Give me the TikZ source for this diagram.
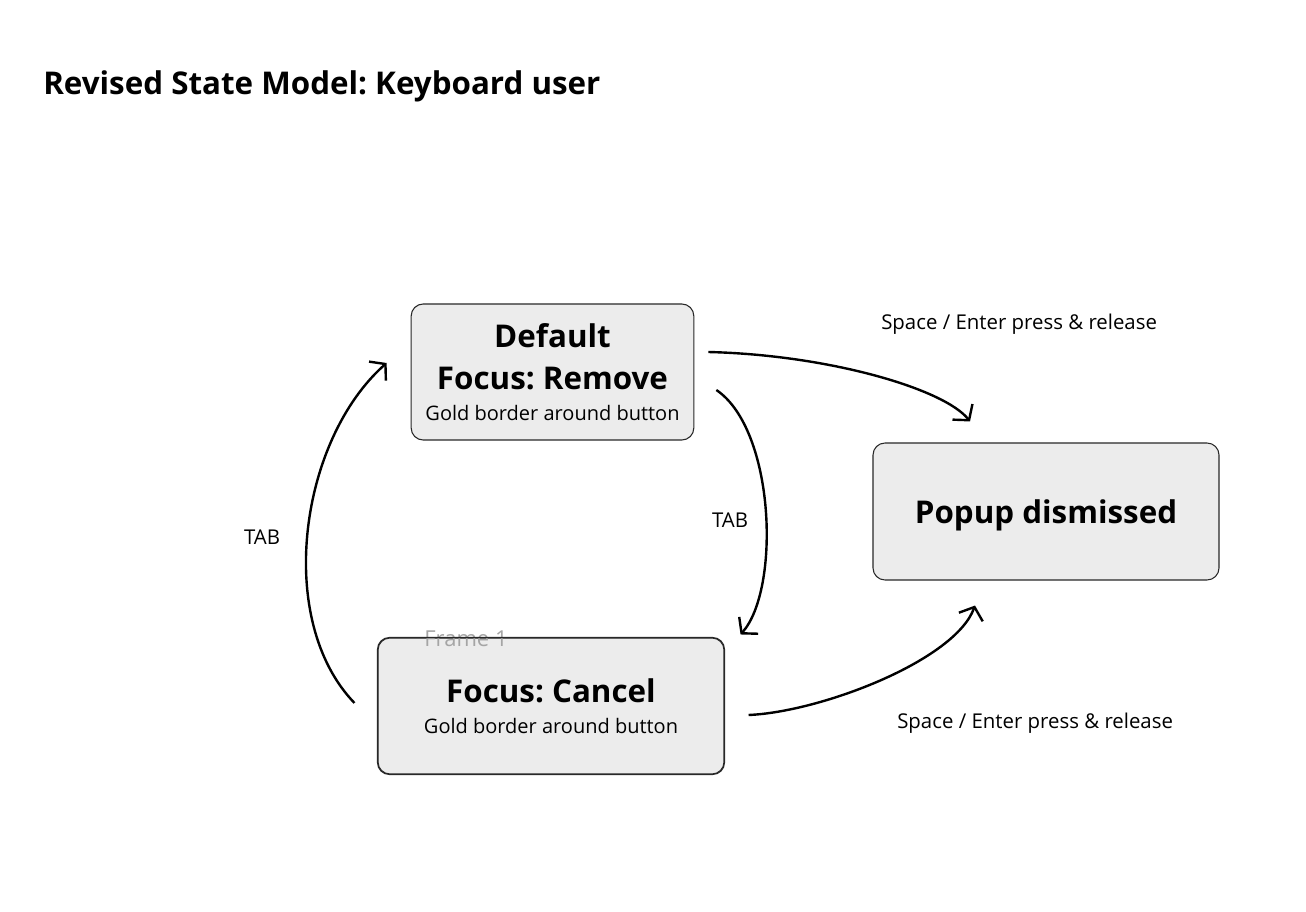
\documentclass[tikz,border=0pt]{standalone}
\usepackage{fontspec}
\setmainfont{Open Sans}
\frenchspacing
\usetikzlibrary{arrows.meta}
\definecolor{boxFill}{RGB}{236,236,236}
\definecolor{boxLine}{RGB}{40,40,40}
\definecolor{frameText}{RGB}{165,165,165}

\begin{document}
\begin{tikzpicture}[
    x=0.75pt, y=-0.75pt,
    state/.style={draw=boxLine, line width=0.8pt, fill=boxFill, rounded corners=9pt, align=center, inner sep=0pt, font=\fontsize{23.5}{32}\selectfont\bfseries},
    sub_text/.style={font=\fontsize{16.5}{19}\selectfont},
    edge_label/.style={font=\fontsize{15.3}{18}\selectfont, text=black, inner sep=0pt},
    trans/.style={-{Straight Barb[length=8pt, width=19pt]}, line width=1.8pt},
]

% Page frame
\useasboundingbox (0,0) rectangle (1306,912);

% Title
\node[anchor=west, inner sep=0pt, font=\fontsize{23.5}{28}\selectfont\bfseries] (title) at (43,86) {Revised State Model: Keyboard user};

% States
\node[state, minimum width=212pt, minimum height=102pt] (default) at (552.5,372) {Default\\Focus: Remove\\[-9pt]{\fontsize{15}{18}\selectfont\mdseries Gold border around button}};
\node[state, minimum width=259.5pt, minimum height=102.75pt, text depth=0pt] (popup) at (1046,511.5) {Popup dismissed};
\node[state, minimum width=259.5pt, minimum height=102pt] (cancel) at (551,706) {Focus: Cancel\\[-9pt]{\fontsize{15}{18}\selectfont\mdseries Gold border around button}};

% Frame caption, the lower box's edge runs over it
\node[sub_text, text=frameText] (frame) at (466,639) {Frame 1};
\draw[boxLine, line width=0.8pt, rounded corners=9pt] (cancel.north west) rectangle (cancel.south east);

% Transition labels
\node[edge_label, anchor=west] (spaceTop) at (881,324) {Space / Enter press \& release};
\node[edge_label, anchor=west] (spaceBottom) at (897,723) {Space / Enter press \& release};
\node[edge_label] (tabLeft) at (262,537) {TAB};
\node[edge_label] (tabRight) at (730,520) {TAB};

% Transitions
\draw[trans] ([shift={(14,-20)}]default.east) .. controls +(122,3) and +(-25,-32) .. ([shift={(-76,-21)}]popup.north);
\draw[trans] ([shift={(24,9)}]cancel.east) .. controls +(72,-3) and +(-20,55) .. ([shift={(-71,25)}]popup.south);
\draw[trans] ([shift={(22,18)}]default.east) .. controls +(59,40) and +(40,-45) .. ([shift={(16,-3)}]cancel.north east);
\draw[trans] ([shift={(-23,-3)}]cancel.west) .. controls +(-80,-83) and +(-87,77) .. ([shift={(-24,-9)}]default.west);

\end{tikzpicture}
\end{document}
